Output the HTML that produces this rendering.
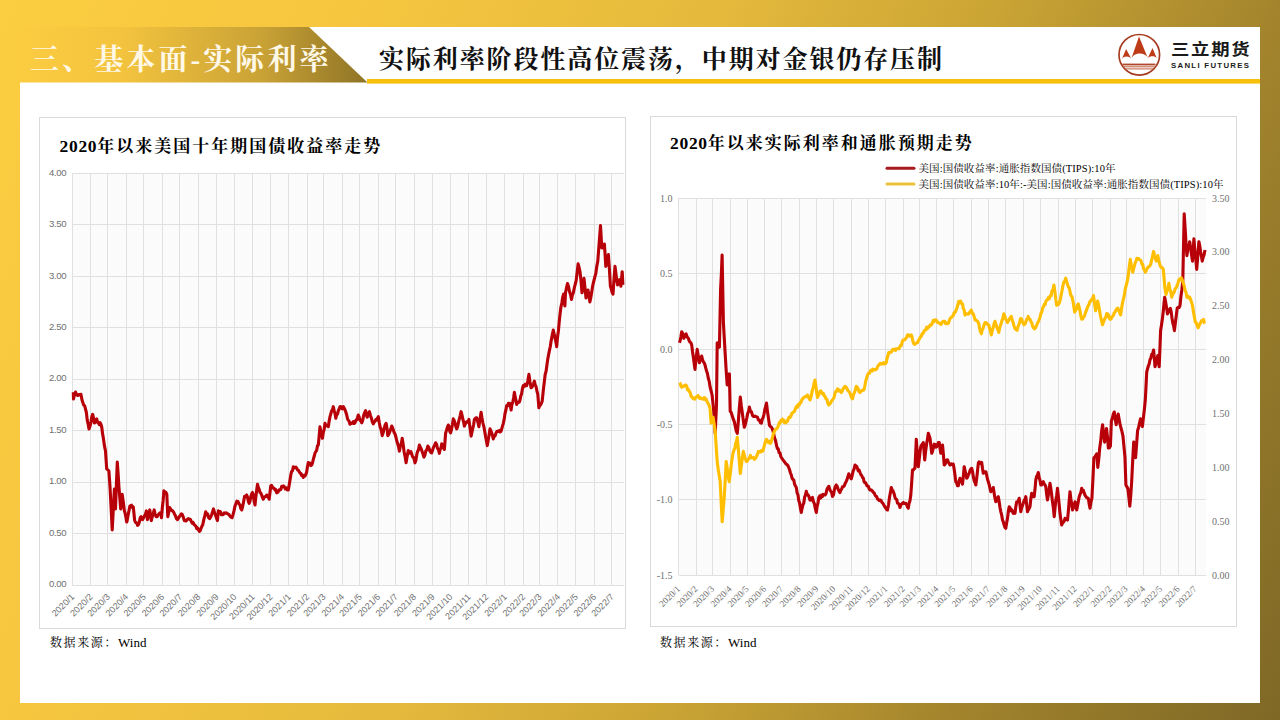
<!DOCTYPE html>
<html lang="zh-CN">
<head>
<meta charset="utf-8">
<title>三、基本面-实际利率</title>
<style>
html,body{margin:0;padding:0;}
body{width:1280px;height:720px;overflow:hidden;position:relative;
  background:linear-gradient(115deg,#fbcd40 0%,#f6c63f 22%,#e4b93c 45%,#caa434 62%,#a4852d 79%,#7e6826 100%);
  font-family:"Liberation Serif","Noto Serif CJK SC",serif;}
.panel{position:absolute;left:20px;top:27px;width:1240px;height:676px;background:#fff;}
.sec{position:absolute;left:30px;top:37.5px;font-family:"Liberation Serif","Noto Serif CJK SC",serif;font-weight:bold;
  font-size:29px;line-height:44px;color:#fff8e6;letter-spacing:3.1px;white-space:nowrap;}
.ttl{position:absolute;left:379px;top:41px;font-family:"Liberation Serif","Noto Serif CJK SC",serif;font-weight:bold;
  font-size:25px;line-height:38px;color:#111;letter-spacing:1.9px;white-space:nowrap;}
.box{position:absolute;border:1px solid #d9d9d9;background:#fff;}
.ctitle{position:absolute;font-family:"Liberation Serif","Noto Serif CJK SC",serif;font-weight:bold;font-size:17px;
  line-height:24px;color:#000;white-space:nowrap;letter-spacing:2.0px;}
.ctitle .n{letter-spacing:0.7px;font-size:17.5px;}
.src{position:absolute;font-family:"Liberation Serif","Noto Serif CJK SC",serif;font-size:12px;line-height:16px;color:#000;white-space:nowrap;}
.src .c{letter-spacing:1.6px;}
.src .w{font-size:13px;}
.leg{position:absolute;font-family:"Liberation Serif","Noto Serif CJK SC",serif;font-size:10.5px;line-height:14px;color:#000;white-space:nowrap;letter-spacing:0.09px;}
.brand{position:absolute;left:1171px;top:37px;font-family:"Liberation Sans","Noto Sans CJK SC",sans-serif;font-weight:bold;
  font-size:16.3px;line-height:24px;color:#1a1a1a;letter-spacing:1.5px;white-space:nowrap;transform:scaleX(1.13);transform-origin:0 0;}
.brand2{position:absolute;left:1171px;top:61px;font-family:"Liberation Sans",sans-serif;font-weight:bold;
  font-size:7.8px;line-height:10px;color:#1a1a1a;letter-spacing:1.3px;white-space:nowrap;}
svg{position:absolute;left:0;top:0;}
</style>
</head>
<body>
<div class="panel"></div>
<svg width="1280" height="720" viewBox="0 0 1280 720">
  <defs>
    <linearGradient id="hg" x1="20" y1="0" x2="367" y2="0" gradientUnits="userSpaceOnUse">
      <stop offset="0" stop-color="#fbcc40"/>
      <stop offset="0.3" stop-color="#f3c33e"/>
      <stop offset="0.7" stop-color="#c9a236"/>
      <stop offset="1" stop-color="#8f7426"/>
    </linearGradient>
  </defs>
  <polygon points="20,27 309,27 367.5,82.5 20,82.5" fill="url(#hg)"/>
  <rect x="367" y="79" width="893" height="4.6" fill="#f6c00c"/>
  <!-- logo -->
  <g>
    <circle cx="1139.3" cy="54.8" r="20.3" fill="none" stroke="#a63d22" stroke-width="1.7"/>
    <path d="M1139,36.6 L1147.8,58 C1145.5,51.8 1133.8,51.8 1131.3,58.8 Z" fill="#bd3b17"/>
    <path d="M1126.1,49.1 L1131.3,58.8 C1129.5,56 1124,55.5 1122,58.8 Z" fill="#bd3b17"/>
    <path d="M1152.5,48.1 L1156.7,58 C1155,55.5 1150,55.5 1147.8,58 Z" fill="#bd3b17"/>
    <rect x="1122.5" y="63.6" width="33" height="1.8" fill="#b0462a"/>
    <rect x="1123.5" y="66.3" width="31" height="1.0" fill="#c0603f"/>
    <rect x="1124.5" y="68.4" width="29" height="1.0" fill="#c0603f"/>
  </g>
</svg>
<div class="sec">三、基本面-实际利率</div>
<div class="ttl">实际利率阶段性高位震荡，中期对金银仍存压制</div>
<div class="brand">三立期货</div>
<div class="brand2">SANLI FUTURES</div>

<div class="box" style="left:39px;top:117px;width:585px;height:510px;"></div>
<div class="box" style="left:650px;top:116px;width:585px;height:509px;"></div>
<div class="ctitle" style="left:59.5px;top:134px;"><span class="n">2020</span>年以来美国十年期国债收益率走势</div>
<div class="ctitle" style="left:670px;top:130.5px;"><span class="n">2020</span>年以来实际利率和通胀预期走势</div>
<div class="leg" style="left:918.5px;top:162px;">美国:国债收益率:通胀指数国债(TIPS):10年</div>
<div class="leg" style="left:918.5px;top:178px;">美国:国债收益率:10年:-美国:国债收益率:通胀指数国债(TIPS):10年</div>
<div class="src" style="left:50px;top:635px;"><span class="c">数据来源：</span><span class="w">Wind</span></div>
<div class="src" style="left:660px;top:635px;"><span class="c">数据来源：</span><span class="w">Wind</span></div>
<svg width="1280" height="720" viewBox="0 0 1280 720">
<g stroke="#e0e0e0" stroke-width="1" shape-rendering="crispEdges">
<rect x="72.2" y="173.4" width="551.6" height="411.6" fill="#fbfbfb" stroke="none"/>
<line x1="72.2" y1="173.4" x2="72.2" y2="585.0"/>
<line x1="90.5" y1="173.4" x2="90.5" y2="585.0"/>
<line x1="107.7" y1="173.4" x2="107.7" y2="585.0"/>
<line x1="126.0" y1="173.4" x2="126.0" y2="585.0"/>
<line x1="143.8" y1="173.4" x2="143.8" y2="585.0"/>
<line x1="162.1" y1="173.4" x2="162.1" y2="585.0"/>
<line x1="179.9" y1="173.4" x2="179.9" y2="585.0"/>
<line x1="198.2" y1="173.4" x2="198.2" y2="585.0"/>
<line x1="216.6" y1="173.4" x2="216.6" y2="585.0"/>
<line x1="234.3" y1="173.4" x2="234.3" y2="585.0"/>
<line x1="252.6" y1="173.4" x2="252.6" y2="585.0"/>
<line x1="270.4" y1="173.4" x2="270.4" y2="585.0"/>
<line x1="288.7" y1="173.4" x2="288.7" y2="585.0"/>
<line x1="307.1" y1="173.4" x2="307.1" y2="585.0"/>
<line x1="323.6" y1="173.4" x2="323.6" y2="585.0"/>
<line x1="342.0" y1="173.4" x2="342.0" y2="585.0"/>
<line x1="359.7" y1="173.4" x2="359.7" y2="585.0"/>
<line x1="378.1" y1="173.4" x2="378.1" y2="585.0"/>
<line x1="395.8" y1="173.4" x2="395.8" y2="585.0"/>
<line x1="414.1" y1="173.4" x2="414.1" y2="585.0"/>
<line x1="432.5" y1="173.4" x2="432.5" y2="585.0"/>
<line x1="450.2" y1="173.4" x2="450.2" y2="585.0"/>
<line x1="468.6" y1="173.4" x2="468.6" y2="585.0"/>
<line x1="486.3" y1="173.4" x2="486.3" y2="585.0"/>
<line x1="504.7" y1="173.4" x2="504.7" y2="585.0"/>
<line x1="523.0" y1="173.4" x2="523.0" y2="585.0"/>
<line x1="539.6" y1="173.4" x2="539.6" y2="585.0"/>
<line x1="557.9" y1="173.4" x2="557.9" y2="585.0"/>
<line x1="575.7" y1="173.4" x2="575.7" y2="585.0"/>
<line x1="594.0" y1="173.4" x2="594.0" y2="585.0"/>
<line x1="611.7" y1="173.4" x2="611.7" y2="585.0"/>
<line x1="72.2" y1="585.0" x2="623.8" y2="585.0"/>
<line x1="72.2" y1="533.5" x2="623.8" y2="533.5"/>
<line x1="72.2" y1="482.1" x2="623.8" y2="482.1"/>
<line x1="72.2" y1="430.6" x2="623.8" y2="430.6"/>
<line x1="72.2" y1="379.2" x2="623.8" y2="379.2"/>
<line x1="72.2" y1="327.8" x2="623.8" y2="327.8"/>
<line x1="72.2" y1="276.3" x2="623.8" y2="276.3"/>
<line x1="72.2" y1="224.8" x2="623.8" y2="224.8"/>
<line x1="72.2" y1="173.4" x2="623.8" y2="173.4"/>
<rect x="678.5" y="198.0" width="527.3" height="377.4" fill="#fbfbfb" stroke="none"/>
<line x1="678.5" y1="198.0" x2="678.5" y2="575.4"/>
<line x1="696.1" y1="198.0" x2="696.1" y2="575.4"/>
<line x1="712.5" y1="198.0" x2="712.5" y2="575.4"/>
<line x1="730.0" y1="198.0" x2="730.0" y2="575.4"/>
<line x1="747.0" y1="198.0" x2="747.0" y2="575.4"/>
<line x1="764.6" y1="198.0" x2="764.6" y2="575.4"/>
<line x1="781.6" y1="198.0" x2="781.6" y2="575.4"/>
<line x1="799.1" y1="198.0" x2="799.1" y2="575.4"/>
<line x1="816.7" y1="198.0" x2="816.7" y2="575.4"/>
<line x1="833.7" y1="198.0" x2="833.7" y2="575.4"/>
<line x1="851.3" y1="198.0" x2="851.3" y2="575.4"/>
<line x1="868.2" y1="198.0" x2="868.2" y2="575.4"/>
<line x1="885.8" y1="198.0" x2="885.8" y2="575.4"/>
<line x1="903.4" y1="198.0" x2="903.4" y2="575.4"/>
<line x1="919.2" y1="198.0" x2="919.2" y2="575.4"/>
<line x1="936.8" y1="198.0" x2="936.8" y2="575.4"/>
<line x1="953.8" y1="198.0" x2="953.8" y2="575.4"/>
<line x1="971.3" y1="198.0" x2="971.3" y2="575.4"/>
<line x1="988.3" y1="198.0" x2="988.3" y2="575.4"/>
<line x1="1005.9" y1="198.0" x2="1005.9" y2="575.4"/>
<line x1="1023.4" y1="198.0" x2="1023.4" y2="575.4"/>
<line x1="1040.4" y1="198.0" x2="1040.4" y2="575.4"/>
<line x1="1058.0" y1="198.0" x2="1058.0" y2="575.4"/>
<line x1="1075.0" y1="198.0" x2="1075.0" y2="575.4"/>
<line x1="1092.5" y1="198.0" x2="1092.5" y2="575.4"/>
<line x1="1110.1" y1="198.0" x2="1110.1" y2="575.4"/>
<line x1="1126.0" y1="198.0" x2="1126.0" y2="575.4"/>
<line x1="1143.5" y1="198.0" x2="1143.5" y2="575.4"/>
<line x1="1160.5" y1="198.0" x2="1160.5" y2="575.4"/>
<line x1="1178.1" y1="198.0" x2="1178.1" y2="575.4"/>
<line x1="1195.1" y1="198.0" x2="1195.1" y2="575.4"/>
<line x1="678.5" y1="198.0" x2="1205.8" y2="198.0"/>
<line x1="678.5" y1="273.5" x2="1205.8" y2="273.5"/>
<line x1="678.5" y1="349.0" x2="1205.8" y2="349.0"/>
<line x1="678.5" y1="424.4" x2="1205.8" y2="424.4"/>
<line x1="678.5" y1="499.9" x2="1205.8" y2="499.9"/>
<line x1="678.5" y1="575.4" x2="1205.8" y2="575.4"/>
</g>
<g font-family="Liberation Sans, Arial, sans-serif" font-size="9" fill="#707070"><text x="66.3" y="587.2" text-anchor="end" font-size="9.6" letter-spacing="-0.35">0.00</text>
<text x="66.3" y="535.8" text-anchor="end" font-size="9.6" letter-spacing="-0.35">0.50</text>
<text x="66.3" y="484.3" text-anchor="end" font-size="9.6" letter-spacing="-0.35">1.00</text>
<text x="66.3" y="432.8" text-anchor="end" font-size="9.6" letter-spacing="-0.35">1.50</text>
<text x="66.3" y="381.4" text-anchor="end" font-size="9.6" letter-spacing="-0.35">2.00</text>
<text x="66.3" y="329.9" text-anchor="end" font-size="9.6" letter-spacing="-0.35">2.50</text>
<text x="66.3" y="278.5" text-anchor="end" font-size="9.6" letter-spacing="-0.35">3.00</text>
<text x="66.3" y="227.0" text-anchor="end" font-size="9.6" letter-spacing="-0.35">3.50</text>
<text x="66.3" y="175.6" text-anchor="end" font-size="9.6" letter-spacing="-0.35">4.00</text>
<text transform="translate(75.0,597.5) rotate(-45)" text-anchor="end">2020/1</text>
<text transform="translate(93.3,597.5) rotate(-45)" text-anchor="end">2020/2</text>
<text transform="translate(110.5,597.5) rotate(-45)" text-anchor="end">2020/3</text>
<text transform="translate(128.8,597.5) rotate(-45)" text-anchor="end">2020/4</text>
<text transform="translate(146.6,597.5) rotate(-45)" text-anchor="end">2020/5</text>
<text transform="translate(164.9,597.5) rotate(-45)" text-anchor="end">2020/6</text>
<text transform="translate(182.7,597.5) rotate(-45)" text-anchor="end">2020/7</text>
<text transform="translate(201.0,597.5) rotate(-45)" text-anchor="end">2020/8</text>
<text transform="translate(219.4,597.5) rotate(-45)" text-anchor="end">2020/9</text>
<text transform="translate(237.1,597.5) rotate(-45)" text-anchor="end">2020/10</text>
<text transform="translate(255.4,597.5) rotate(-45)" text-anchor="end">2020/11</text>
<text transform="translate(273.2,597.5) rotate(-45)" text-anchor="end">2020/12</text>
<text transform="translate(291.5,597.5) rotate(-45)" text-anchor="end">2021/1</text>
<text transform="translate(309.9,597.5) rotate(-45)" text-anchor="end">2021/2</text>
<text transform="translate(326.4,597.5) rotate(-45)" text-anchor="end">2021/3</text>
<text transform="translate(344.8,597.5) rotate(-45)" text-anchor="end">2021/4</text>
<text transform="translate(362.5,597.5) rotate(-45)" text-anchor="end">2021/5</text>
<text transform="translate(380.9,597.5) rotate(-45)" text-anchor="end">2021/6</text>
<text transform="translate(398.6,597.5) rotate(-45)" text-anchor="end">2021/7</text>
<text transform="translate(416.9,597.5) rotate(-45)" text-anchor="end">2021/8</text>
<text transform="translate(435.3,597.5) rotate(-45)" text-anchor="end">2021/9</text>
<text transform="translate(453.0,597.5) rotate(-45)" text-anchor="end">2021/10</text>
<text transform="translate(471.4,597.5) rotate(-45)" text-anchor="end">2021/11</text>
<text transform="translate(489.1,597.5) rotate(-45)" text-anchor="end">2021/12</text>
<text transform="translate(507.5,597.5) rotate(-45)" text-anchor="end">2022/1</text>
<text transform="translate(525.8,597.5) rotate(-45)" text-anchor="end">2022/2</text>
<text transform="translate(542.4,597.5) rotate(-45)" text-anchor="end">2022/3</text>
<text transform="translate(560.7,597.5) rotate(-45)" text-anchor="end">2022/4</text>
<text transform="translate(578.5,597.5) rotate(-45)" text-anchor="end">2022/5</text>
<text transform="translate(596.8,597.5) rotate(-45)" text-anchor="end">2022/6</text>
<text transform="translate(614.5,597.5) rotate(-45)" text-anchor="end">2022/7</text></g>
<g font-family="Liberation Serif, serif" font-size="10" fill="#707070"><text x="672.5" y="201.5" text-anchor="end">1.0</text>
<text x="672.5" y="277.0" text-anchor="end">0.5</text>
<text x="672.5" y="352.5" text-anchor="end">0.0</text>
<text x="672.5" y="427.9" text-anchor="end">-0.5</text>
<text x="672.5" y="503.4" text-anchor="end">-1.0</text>
<text x="672.5" y="578.9" text-anchor="end">-1.5</text>
<text x="1212" y="201.5">3.50</text>
<text x="1212" y="255.4">3.00</text>
<text x="1212" y="309.3">2.50</text>
<text x="1212" y="363.2">2.00</text>
<text x="1212" y="417.2">1.50</text>
<text x="1212" y="471.1">1.00</text>
<text x="1212" y="525.0">0.50</text>
<text x="1212" y="578.9">0.00</text>
<text transform="translate(680.7,589.5) rotate(-45)" text-anchor="end" font-size="9.2">2020/1</text>
<text transform="translate(698.3,589.5) rotate(-45)" text-anchor="end" font-size="9.2">2020/2</text>
<text transform="translate(714.7,589.5) rotate(-45)" text-anchor="end" font-size="9.2">2020/3</text>
<text transform="translate(732.2,589.5) rotate(-45)" text-anchor="end" font-size="9.2">2020/4</text>
<text transform="translate(749.2,589.5) rotate(-45)" text-anchor="end" font-size="9.2">2020/5</text>
<text transform="translate(766.8,589.5) rotate(-45)" text-anchor="end" font-size="9.2">2020/6</text>
<text transform="translate(783.8,589.5) rotate(-45)" text-anchor="end" font-size="9.2">2020/7</text>
<text transform="translate(801.3,589.5) rotate(-45)" text-anchor="end" font-size="9.2">2020/8</text>
<text transform="translate(818.9,589.5) rotate(-45)" text-anchor="end" font-size="9.2">2020/9</text>
<text transform="translate(835.9,589.5) rotate(-45)" text-anchor="end" font-size="9.2">2020/10</text>
<text transform="translate(853.5,589.5) rotate(-45)" text-anchor="end" font-size="9.2">2020/11</text>
<text transform="translate(870.4,589.5) rotate(-45)" text-anchor="end" font-size="9.2">2020/12</text>
<text transform="translate(888.0,589.5) rotate(-45)" text-anchor="end" font-size="9.2">2021/1</text>
<text transform="translate(905.6,589.5) rotate(-45)" text-anchor="end" font-size="9.2">2021/2</text>
<text transform="translate(921.4,589.5) rotate(-45)" text-anchor="end" font-size="9.2">2021/3</text>
<text transform="translate(939.0,589.5) rotate(-45)" text-anchor="end" font-size="9.2">2021/4</text>
<text transform="translate(956.0,589.5) rotate(-45)" text-anchor="end" font-size="9.2">2021/5</text>
<text transform="translate(973.5,589.5) rotate(-45)" text-anchor="end" font-size="9.2">2021/6</text>
<text transform="translate(990.5,589.5) rotate(-45)" text-anchor="end" font-size="9.2">2021/7</text>
<text transform="translate(1008.1,589.5) rotate(-45)" text-anchor="end" font-size="9.2">2021/8</text>
<text transform="translate(1025.6,589.5) rotate(-45)" text-anchor="end" font-size="9.2">2021/9</text>
<text transform="translate(1042.6,589.5) rotate(-45)" text-anchor="end" font-size="9.2">2021/10</text>
<text transform="translate(1060.2,589.5) rotate(-45)" text-anchor="end" font-size="9.2">2021/11</text>
<text transform="translate(1077.2,589.5) rotate(-45)" text-anchor="end" font-size="9.2">2021/12</text>
<text transform="translate(1094.7,589.5) rotate(-45)" text-anchor="end" font-size="9.2">2022/1</text>
<text transform="translate(1112.3,589.5) rotate(-45)" text-anchor="end" font-size="9.2">2022/2</text>
<text transform="translate(1128.2,589.5) rotate(-45)" text-anchor="end" font-size="9.2">2022/3</text>
<text transform="translate(1145.7,589.5) rotate(-45)" text-anchor="end" font-size="9.2">2022/4</text>
<text transform="translate(1162.7,589.5) rotate(-45)" text-anchor="end" font-size="9.2">2022/5</text>
<text transform="translate(1180.3,589.5) rotate(-45)" text-anchor="end" font-size="9.2">2022/6</text>
<text transform="translate(1197.3,589.5) rotate(-45)" text-anchor="end" font-size="9.2">2022/7</text></g>
<path d="M679.4,342.8 680.2,340.4 680.9,336.7 681.7,331.7 682.8,333.8 683.9,338.3 685.0,334.9 686.1,333.9 687.2,337.0 688.3,338.3 689.1,340.6 690.0,342.1 690.9,342.8 691.7,345.0 692.5,351.4 693.4,357.5 694.2,363.5 695.0,369.4 696.1,358.4 697.2,349.4 698.3,355.9 699.4,362.8 700.2,360.3 700.9,359.0 701.7,356.1 702.5,359.7 703.4,361.8 704.2,362.9 705.0,365.0 705.8,368.2 706.6,371.0 707.5,373.7 708.3,378.3 709.2,381.3 710.1,387.0 711.1,390.9 712.1,395.0 713.1,404.6 714.1,415.2 715.2,433.3 716.5,405.0 717.2,342.8 718.3,344.7 719.4,347.2 720.6,289.4 721.4,273.3 722.1,255.0 723.4,322.8 724.3,338.4 725.2,354.0 726.1,369.4 727.2,385.0 728.3,378.7 729.4,373.9 730.2,411.2 731.2,412.5 732.3,416.0 733.3,419.2 734.3,421.7 735.3,426.3 736.3,431.2 737.3,433.3 738.3,421.7 739.3,408.3 740.3,397.1 741.3,405.8 742.3,413.0 743.3,420.4 744.3,427.3 745.1,425.1 746.0,421.3 746.8,418.0 747.7,413.4 748.5,411.8 749.4,407.1 750.4,411.1 751.4,411.6 752.4,415.2 753.2,416.2 754.1,416.5 754.9,416.1 755.7,416.6 756.6,416.8 757.4,417.2 758.4,419.9 759.4,420.2 760.4,422.6 761.4,423.2 762.2,419.4 763.1,417.6 764.0,414.3 764.8,409.7 765.6,406.6 766.5,403.1 767.5,411.6 768.5,418.5 769.5,425.2 770.5,426.5 771.5,427.2 772.5,429.3 773.5,432.8 774.5,437.9 775.5,440.4 776.5,445.4 777.4,448.5 778.2,448.8 779.1,452.6 780.0,452.9 780.9,456.7 781.7,458.0 782.6,459.4 783.4,460.4 784.2,461.5 785.0,462.5 785.8,463.8 786.7,464.4 787.5,465.0 788.5,467.0 789.4,469.2 790.3,472.5 791.3,475.0 792.1,478.3 793.0,479.5 793.8,480.1 794.6,484.2 795.5,486.0 796.3,487.5 797.1,492.8 798.0,495.0 798.8,500.7 799.6,502.9 800.5,508.8 801.3,512.5 802.1,508.3 803.0,504.7 803.8,503.0 804.6,497.3 805.5,494.9 806.3,491.3 807.2,494.5 808.1,494.9 809.1,497.0 810.0,500.0 810.8,500.2 811.7,498.1 812.5,497.5 813.5,501.9 814.4,503.7 815.3,508.4 816.3,512.5 817.1,506.6 818.0,503.0 818.8,497.5 819.7,496.0 820.6,498.1 821.5,495.1 822.3,496.7 823.2,494.4 824.1,494.7 825.0,495.0 826.0,493.7 826.9,489.7 827.8,487.6 828.8,486.3 829.7,489.3 830.6,491.0 831.6,492.5 832.5,496.3 833.5,494.8 834.4,489.7 835.3,486.5 836.3,485.0 837.2,486.4 838.1,489.1 839.1,491.3 840.0,492.5 840.8,490.0 841.7,489.1 842.5,486.8 843.3,486.6 844.2,486.0 845.0,483.8 846.0,482.0 846.9,479.9 847.8,477.0 848.8,473.8 849.6,476.5 850.5,477.7 851.3,478.8 852.2,475.3 853.1,471.1 854.1,468.9 855.0,465.0 855.8,465.7 856.7,466.4 857.5,468.6 858.3,471.0 859.2,470.2 860.0,472.5 860.8,474.4 861.7,475.5 862.5,477.5 863.3,478.2 864.2,482.1 865.0,482.5 865.8,483.1 866.7,485.3 867.5,486.0 868.3,486.2 869.2,488.9 870.0,490.0 870.8,489.8 871.7,490.4 872.5,491.2 873.3,492.4 874.2,493.0 875.0,495.0 875.8,496.2 876.7,496.7 877.5,498.9 878.3,499.5 879.2,500.6 880.0,500.0 881.0,500.5 881.9,502.3 882.8,503.1 883.8,505.0 884.7,506.5 885.6,507.8 886.6,509.6 887.5,510.0 888.5,505.0 889.4,498.1 890.3,492.9 891.3,487.5 892.2,490.1 893.1,491.1 894.1,493.7 895.0,497.5 895.8,498.9 896.7,499.7 897.5,503.1 898.3,503.4 899.2,504.7 900.0,507.5 900.8,505.2 901.7,503.9 902.5,503.3 903.3,502.5 904.1,503.4 905.0,503.2 905.8,503.3 906.6,504.4 907.5,507.0 908.3,508.3 909.1,503.1 910.0,500.6 910.8,495.0 911.6,483.8 912.5,470.0 913.3,470.1 914.2,468.7 915.0,468.3 916.3,439.2 917.3,453.0 918.3,466.7 919.1,460.3 920.0,452.1 920.8,446.7 921.6,445.1 922.5,444.0 923.3,442.5 924.0,450.4 924.7,460.0 925.7,450.5 926.7,443.3 927.5,439.1 928.3,433.3 929.1,435.4 930.0,438.3 930.9,445.9 931.7,453.3 932.5,451.4 933.4,447.5 934.2,444.2 935.0,444.4 935.9,447.2 936.7,446.7 937.5,444.9 938.4,442.6 939.2,442.5 940.0,448.4 940.8,453.3 941.6,448.0 942.5,445.0 943.4,454.5 944.2,465.0 945.0,464.3 945.9,462.1 946.7,460.0 947.5,459.9 948.4,462.4 949.2,463.5 950.0,465.0 950.8,464.8 951.6,463.8 952.5,464.6 953.3,464.2 954.1,468.8 955.0,475.3 955.8,481.7 956.6,482.7 957.5,485.7 958.3,485.8 959.1,480.9 960.0,478.3 960.8,481.0 961.7,481.4 962.5,484.2 963.4,475.7 964.2,466.7 965.0,470.3 965.9,474.3 966.7,478.3 967.5,477.3 968.4,474.7 969.2,473.3 970.0,470.6 970.9,468.9 971.7,468.3 972.5,471.3 973.3,476.7 974.1,480.4 975.0,482.6 975.8,485.0 976.6,479.1 977.5,471.1 978.3,463.3 979.1,461.8 980.0,463.3 980.9,463.5 981.7,462.5 982.5,468.5 983.3,473.3 984.1,472.8 985.0,471.8 985.8,471.7 986.6,474.9 987.5,479.2 988.3,481.7 989.1,484.4 990.0,488.4 990.8,491.7 991.6,490.2 992.5,490.2 993.3,487.5 994.1,493.1 995.0,498.2 995.8,501.7 996.6,501.0 997.5,497.8 998.3,496.7 999.1,501.3 1000.0,507.5 1000.8,511.6 1001.7,515.2 1002.5,520.0 1003.3,521.9 1004.1,524.7 1005.0,527.4 1005.8,528.3 1006.6,523.1 1007.5,518.4 1008.4,511.0 1009.2,506.7 1010.0,507.6 1010.8,510.7 1011.7,509.7 1012.5,511.7 1013.3,513.3 1014.1,512.1 1015.0,513.3 1015.9,506.3 1016.7,501.7 1017.5,501.7 1018.4,500.8 1019.2,498.3 1020.0,505.4 1020.8,511.7 1021.6,507.9 1022.5,505.5 1023.3,503.3 1024.1,500.3 1025.0,499.4 1025.8,496.7 1026.7,504.7 1027.5,511.7 1028.3,509.9 1029.2,508.4 1030.0,506.7 1030.8,498.9 1031.7,493.3 1032.5,494.5 1033.4,496.8 1034.2,496.7 1035.0,489.1 1035.8,480.0 1036.6,476.4 1037.5,475.0 1038.3,472.5 1039.1,477.3 1040.0,480.2 1040.8,485.0 1041.6,485.0 1042.5,482.7 1043.3,481.7 1044.1,483.9 1045.0,484.8 1045.8,486.7 1046.7,494.7 1047.5,500.0 1048.3,495.2 1049.2,489.1 1050.0,483.3 1050.8,488.2 1051.7,495.0 1052.5,502.1 1053.4,508.1 1054.2,516.7 1055.0,508.6 1055.8,500.0 1056.7,495.2 1057.5,488.3 1058.3,495.7 1059.2,505.0 1060.0,513.3 1060.8,519.1 1061.7,525.0 1062.5,523.1 1063.3,522.2 1064.2,521.2 1065.0,518.3 1065.8,519.4 1066.7,519.4 1067.5,520.0 1068.3,511.9 1069.2,500.7 1070.0,491.7 1070.8,498.5 1071.7,504.3 1072.5,510.0 1073.3,508.0 1074.2,505.5 1075.0,501.7 1075.8,505.1 1076.7,510.0 1077.5,505.9 1078.4,500.9 1079.2,496.7 1080.0,494.4 1080.9,492.4 1081.7,488.3 1082.5,490.4 1083.3,490.3 1084.2,493.2 1085.0,495.0 1085.8,496.4 1086.7,497.7 1087.5,497.9 1088.3,498.3 1089.2,504.1 1090.0,508.2 1091.0,501.9 1091.9,498.4 1092.9,479.3 1093.9,457.7 1094.9,457.0 1095.8,455.4 1096.8,453.8 1097.8,467.4 1098.8,458.8 1099.7,448.0 1100.7,441.3 1101.6,431.3 1102.6,424.7 1103.6,434.3 1104.6,442.1 1105.5,436.0 1106.5,428.5 1107.5,437.4 1108.4,448.0 1109.4,447.7 1110.4,446.0 1111.4,420.8 1112.4,418.1 1113.3,414.1 1114.3,412.0 1115.2,419.2 1116.2,424.7 1117.2,418.3 1118.2,414.0 1119.2,419.7 1120.1,424.7 1121.1,428.4 1122.0,431.7 1123.0,436.3 1124.0,447.2 1125.0,457.7 1125.9,484.9 1126.9,486.7 1127.9,488.7 1128.8,496.6 1129.8,506.2 1130.8,494.9 1131.7,481.0 1132.7,460.4 1133.7,442.1 1134.7,448.5 1135.6,457.7 1136.6,444.1 1137.6,430.5 1138.6,427.5 1139.5,423.1 1140.5,418.8 1141.5,423.4 1142.4,426.6 1143.4,417.8 1144.4,409.1 1145.3,400.0 1146.0,386.6 1146.7,372.2 1147.5,369.0 1148.3,366.0 1149.2,363.9 1150.0,359.8 1150.8,358.3 1151.7,354.4 1152.7,353.5 1153.6,350.0 1154.3,357.4 1155.0,366.7 1155.9,363.7 1156.9,360.1 1157.8,355.6 1158.5,360.9 1159.2,366.7 1159.9,349.1 1160.6,330.6 1161.5,324.9 1162.4,318.6 1163.3,311.1 1164.0,303.1 1164.7,297.2 1165.6,301.8 1166.6,308.0 1167.5,313.9 1168.4,311.9 1169.4,309.6 1170.3,308.3 1171.1,311.4 1171.9,317.4 1172.8,323.0 1173.6,325.8 1174.4,330.6 1175.3,323.3 1176.3,315.4 1177.2,308.3 1178.1,307.2 1179.1,307.5 1180.0,305.6 1180.9,296.7 1181.9,289.4 1182.8,280.6 1183.5,247.2 1184.2,213.9 1185.1,227.9 1186.0,242.9 1186.9,255.6 1187.8,249.8 1188.8,247.2 1189.7,241.7 1190.6,247.6 1191.6,255.0 1192.5,261.1 1193.2,250.8 1193.9,238.9 1194.8,249.5 1195.8,258.9 1196.7,269.4 1197.8,256.5 1198.9,241.7 1199.7,245.4 1200.6,251.8 1201.4,255.9 1202.2,261.1 1203.1,257.5 1204.1,254.7 1205.0,250.0" fill="none" stroke="#b80008" stroke-width="3.1" stroke-linejoin="round"/>
<path d="M679.4,382.8 680.2,383.5 680.9,385.9 681.7,387.2 682.5,386.3 683.4,386.4 684.2,385.9 685.0,385.0 685.9,385.1 686.8,386.3 687.6,390.0 688.5,389.7 689.4,391.7 690.2,392.6 691.1,396.4 691.9,396.6 692.8,398.3 694.0,399.0 694.8,399.2 695.6,397.5 696.4,397.2 697.2,396.1 698.1,395.6 699.0,397.4 699.9,398.5 700.8,397.9 701.7,398.3 702.6,399.1 703.5,399.1 704.3,397.5 705.2,399.6 706.1,399.0 707.1,401.8 708.1,403.5 709.1,405.3 710.1,409.1 711.1,423.2 712.1,421.2 713.1,417.2 714.2,424.2 715.2,431.3 716.2,447.0 717.2,461.5 718.2,469.3 719.2,475.5 720.2,481.6 721.2,502.9 722.2,521.8 723.2,509.5 724.2,497.7 725.2,480.4 726.2,461.5 727.2,468.0 728.2,476.1 729.2,481.6 730.2,474.6 731.3,464.3 732.3,457.4 733.1,453.0 734.0,449.9 734.8,448.7 735.6,443.8 736.5,441.0 737.3,437.3 738.3,448.8 739.3,461.5 740.3,473.5 741.3,465.8 742.3,458.3 743.3,451.4 744.3,455.0 745.3,458.4 746.3,461.5 747.1,461.4 747.9,459.6 748.8,459.0 749.6,457.6 750.4,455.4 751.4,457.8 752.4,457.9 753.4,457.5 754.4,459.4 755.4,458.4 756.4,456.7 757.4,454.5 758.4,451.4 759.4,451.6 760.4,452.0 761.4,450.6 762.4,451.4 763.2,449.9 764.0,446.8 764.9,443.5 765.7,440.5 766.5,439.3 767.5,441.3 768.5,442.7 769.5,441.2 770.5,443.4 771.5,441.2 772.5,437.1 773.5,433.3 774.5,431.3 775.5,429.2 776.5,429.0 777.5,427.8 778.5,425.2 779.3,422.7 780.1,423.1 781.0,420.3 781.8,421.0 782.6,419.2 783.4,419.8 784.2,422.5 785.0,422.5 785.8,423.0 786.7,420.8 787.5,421.4 788.3,418.6 789.2,417.1 790.0,417.5 790.8,416.5 791.7,413.7 792.5,412.9 793.3,412.2 794.2,411.6 795.0,410.0 795.8,407.8 796.7,406.2 797.5,407.3 798.3,404.5 799.2,405.0 800.0,402.5 801.0,402.4 801.9,399.7 802.8,398.6 803.8,397.5 804.7,396.9 805.6,396.7 806.6,395.9 807.5,395.0 808.3,396.8 809.2,398.7 810.0,400.0 810.8,397.9 811.7,393.4 812.5,389.8 813.3,387.3 814.2,382.6 815.0,380.0 815.8,385.3 816.7,393.0 817.5,397.5 818.3,395.5 819.2,393.5 820.0,391.3 820.8,390.8 821.7,392.7 822.5,394.0 823.3,393.3 824.2,395.8 825.0,396.3 826.0,398.8 826.9,399.4 827.8,403.2 828.8,405.0 829.7,403.7 830.6,403.0 831.6,400.8 832.5,400.0 833.3,398.7 834.2,396.9 835.0,393.1 835.8,391.3 836.7,391.2 837.5,388.8 838.5,391.0 839.4,390.0 840.3,391.5 841.3,392.5 842.2,391.2 843.1,388.9 844.1,387.5 845.0,386.3 846.0,387.0 846.9,388.4 847.8,390.3 848.8,391.3 849.7,392.6 850.6,394.7 851.6,397.7 852.5,398.8 853.5,394.4 854.4,392.7 855.3,390.1 856.3,386.3 857.2,387.3 858.1,388.6 859.1,391.8 860.0,392.5 861.0,391.1 861.9,390.4 862.8,390.4 863.8,390.0 864.7,386.8 865.6,381.4 866.6,378.3 867.5,375.0 868.5,373.3 869.4,373.4 870.3,371.1 871.3,370.0 872.2,371.0 873.1,369.1 874.1,369.5 875.0,370.0 876.0,369.2 876.9,368.6 877.8,366.1 878.8,365.0 879.7,363.9 880.6,363.3 881.6,364.2 882.5,363.8 883.5,362.6 884.4,364.0 885.3,363.8 886.3,362.5 887.1,358.3 888.0,355.2 888.8,352.5 889.6,352.9 890.5,352.1 891.3,352.1 892.1,350.4 893.0,349.4 893.8,350.0 894.6,349.2 895.5,350.4 896.3,348.8 897.1,348.8 898.0,348.8 898.8,348.8 899.6,347.1 900.5,345.6 901.3,345.6 902.1,342.0 903.0,340.1 903.8,340.0 904.7,340.0 905.6,338.6 906.6,337.6 907.5,335.0 908.5,334.8 909.4,336.3 910.3,336.2 911.3,335.0 912.1,337.2 913.0,341.6 913.8,343.8 914.7,344.4 915.6,343.6 916.6,342.9 917.5,342.5 918.5,340.4 919.4,339.0 920.3,337.1 921.3,336.3 922.2,333.5 923.1,333.4 924.1,331.0 925.0,330.0 925.8,330.0 926.7,327.1 927.5,328.6 928.3,327.2 929.2,327.0 930.0,325.0 930.8,325.3 931.7,324.5 932.5,322.7 933.3,320.3 934.2,321.5 935.0,320.0 935.8,319.7 936.7,320.7 937.5,322.4 938.3,322.6 939.2,322.9 940.0,323.8 941.0,324.4 941.9,322.9 942.8,321.5 943.8,321.3 944.7,321.2 945.6,323.6 946.6,323.1 947.5,323.8 948.5,323.0 949.4,320.2 950.3,318.2 951.3,317.5 952.2,316.3 953.1,315.9 954.1,312.8 955.0,312.5 956.0,310.5 956.9,308.1 957.8,305.0 958.8,301.3 959.7,302.8 960.6,301.2 961.6,303.5 962.5,303.8 963.3,308.5 964.2,310.0 965.0,315.0 966.0,314.1 966.9,313.8 967.8,314.2 968.8,313.8 969.6,312.3 970.5,311.2 971.3,310.0 972.2,313.3 973.1,313.6 974.1,316.3 975.0,320.0 976.0,319.9 976.9,320.8 977.8,321.6 978.8,323.8 979.6,328.5 980.5,331.5 981.3,333.8 982.2,329.8 983.1,328.2 984.1,324.8 985.0,322.5 986.0,322.6 986.9,323.3 987.8,324.8 988.8,325.0 989.6,328.6 990.5,331.3 991.3,335.0 992.2,330.7 993.1,327.7 994.1,323.7 995.0,321.3 996.0,324.3 996.9,327.5 997.8,329.4 998.8,332.5 999.6,328.2 1000.5,325.4 1001.3,322.8 1002.1,320.3 1003.0,317.7 1003.8,313.8 1004.7,315.6 1005.6,319.0 1006.6,320.7 1007.5,322.5 1008.5,320.8 1009.4,319.0 1010.3,317.8 1011.3,316.3 1012.2,320.0 1013.1,322.3 1014.1,326.2 1015.0,328.8 1016.0,329.4 1017.1,330.3 1018.0,326.6 1018.9,324.5 1019.7,322.0 1020.6,318.5 1021.5,318.9 1022.3,321.4 1023.1,322.9 1024.0,324.7 1024.8,324.1 1025.7,322.6 1026.5,319.4 1027.4,319.2 1028.2,316.4 1029.1,319.0 1030.0,319.3 1030.9,321.7 1031.7,322.5 1032.6,326.2 1033.5,327.6 1034.4,328.9 1035.4,328.0 1036.4,325.8 1037.3,323.5 1038.3,321.8 1039.3,319.2 1040.1,316.9 1041.0,313.1 1041.8,311.9 1042.7,307.8 1043.5,306.7 1044.3,304.3 1045.1,304.7 1046.0,301.2 1046.8,300.0 1047.6,299.7 1048.5,297.6 1049.3,298.7 1050.2,295.7 1051.1,295.6 1052.0,290.8 1053.0,289.6 1053.9,285.1 1054.8,290.8 1055.8,299.5 1056.7,305.3 1057.6,304.9 1058.5,304.4 1059.4,302.5 1060.3,299.6 1061.2,294.4 1062.0,290.8 1062.9,285.8 1063.8,282.0 1064.8,281.5 1065.7,278.2 1066.6,281.2 1067.6,284.8 1068.5,287.2 1069.4,288.5 1070.2,292.7 1071.1,295.7 1072.0,296.9 1072.9,300.8 1073.8,306.6 1074.7,312.2 1075.6,310.3 1076.5,309.0 1077.3,305.3 1078.2,303.9 1079.1,306.8 1080.0,310.8 1080.8,315.7 1081.7,319.2 1082.6,319.0 1083.5,317.0 1084.4,316.4 1085.3,313.3 1086.3,310.6 1087.2,308.1 1088.1,305.9 1089.0,304.4 1089.8,301.7 1090.7,301.1 1091.6,299.3 1092.6,298.8 1093.5,295.6 1094.5,303.0 1095.6,310.8 1096.6,306.6 1097.6,301.1 1098.6,304.9 1099.6,311.1 1100.5,316.0 1101.5,320.5 1102.5,324.7 1103.3,322.5 1104.2,320.2 1105.0,318.4 1105.9,316.9 1106.7,313.6 1107.5,313.7 1108.3,314.7 1109.2,317.7 1110.0,319.2 1110.8,319.2 1111.6,317.8 1112.5,316.2 1113.3,315.6 1114.2,312.7 1115.0,312.2 1115.9,310.2 1116.9,308.6 1117.8,308.1 1118.7,310.6 1119.7,312.2 1120.6,315.0 1121.6,308.0 1122.6,302.5 1123.5,298.9 1124.3,295.4 1125.2,289.4 1126.1,285.8 1127.2,281.5 1128.2,276.1 1129.2,267.5 1130.3,259.4 1131.1,264.7 1132.0,268.2 1132.8,272.2 1133.6,268.8 1134.4,265.8 1135.3,262.5 1136.1,261.0 1136.9,258.3 1137.7,258.5 1138.6,258.5 1139.4,259.6 1140.3,260.0 1141.1,261.1 1141.9,264.1 1142.8,264.5 1143.6,269.1 1144.5,269.9 1145.3,272.2 1146.2,270.6 1147.2,268.4 1148.1,266.7 1149.0,266.7 1149.9,265.7 1150.8,263.9 1151.7,259.9 1152.7,255.5 1153.6,251.4 1154.5,255.3 1155.5,258.9 1156.4,261.1 1157.1,258.1 1157.8,255.6 1158.7,260.0 1159.7,264.3 1160.6,266.7 1161.5,267.5 1162.4,267.7 1163.3,269.4 1164.0,277.0 1164.7,286.1 1165.4,290.9 1166.1,294.4 1167.0,291.2 1168.0,288.3 1168.9,283.3 1169.8,288.9 1170.8,291.8 1171.7,297.2 1172.6,294.5 1173.5,292.9 1174.4,291.7 1175.2,288.6 1176.1,287.8 1176.9,286.0 1177.8,283.9 1178.6,280.6 1179.5,279.0 1180.5,279.8 1181.4,277.8 1182.3,280.0 1183.3,283.1 1184.2,286.1 1185.1,290.4 1186.0,292.3 1186.9,297.2 1187.8,296.1 1188.8,298.1 1189.7,297.2 1190.6,299.4 1191.6,302.4 1192.5,305.6 1193.4,311.4 1194.4,317.2 1195.3,322.2 1196.2,322.7 1197.2,325.5 1198.1,327.8 1199.0,325.8 1199.9,324.0 1200.8,322.2 1201.7,320.5 1202.7,320.6 1203.6,319.4 1204.3,322.8 1205.0,323.6" fill="none" stroke="#ffbf00" stroke-width="3.1" stroke-linejoin="round"/>
<path d="M73.3,392.2 73.5,399.0 74.5,394.5 75.5,392.0 76.3,394.1 77.0,395.1 77.8,395.5 78.6,394.5 79.4,394.9 80.2,394.5 81.0,394.4 82.0,400.0 82.9,402.7 83.8,405.3 84.6,405.6 85.5,409.0 86.4,412.7 87.2,419.9 88.1,423.8 89.0,429.0 90.0,426.2 91.0,422.0 91.8,416.8 92.7,414.4 93.6,418.5 94.4,423.0 95.2,422.3 95.9,419.6 96.7,419.0 97.6,422.2 98.4,423.0 99.3,424.6 100.1,422.6 101.0,424.4 101.8,427.5 102.5,433.4 103.3,437.8 104.4,445.6 105.5,451.0 106.7,469.0 107.8,469.7 108.9,471.0 110.0,486.7 111.1,507.6 112.2,530.0 113.3,509.3 114.4,489.0 115.5,509.0 116.4,484.2 117.3,462.0 118.1,473.6 118.9,486.7 119.8,497.7 120.7,509.0 121.5,501.7 122.2,494.4 123.3,502.0 124.4,511.0 125.0,512.8 125.8,516.6 126.7,522.0 127.0,521.6 128.0,515.6 128.9,511.1 129.9,506.0 130.8,505.7 131.6,505.2 132.5,507.7 133.3,507.0 134.0,514.0 134.7,520.6 135.7,522.6 136.6,522.9 137.6,525.4 138.4,524.6 139.3,522.1 140.2,517.8 141.0,516.7 141.8,517.7 142.5,519.6 143.5,518.0 144.4,515.8 145.4,514.3 146.4,510.9 147.4,519.6 148.2,516.1 149.0,514.1 149.8,509.9 150.6,515.7 151.3,520.6 152.3,516.5 153.2,513.7 154.2,509.9 155.1,514.4 156.1,516.7 157.1,516.7 158.1,514.8 159.0,514.0 160.0,512.8 160.8,513.9 161.5,517.7 162.3,508.0 163.1,500.7 163.9,490.9 164.9,491.8 165.8,492.3 166.8,494.3 167.8,516.7 168.8,512.2 169.7,507.5 170.7,509.2 171.7,510.3 172.7,510.9 173.7,512.3 174.6,514.2 175.6,516.1 176.5,518.6 177.5,519.6 178.5,518.2 179.4,516.4 180.4,515.2 181.4,513.8 182.4,514.7 183.3,517.1 184.3,520.6 185.3,520.7 186.2,521.0 187.2,519.4 188.2,518.6 189.2,519.1 190.2,519.2 191.1,520.9 192.1,523.1 193.1,522.5 194.1,524.6 195.0,525.2 196.0,526.4 196.8,528.6 197.7,528.1 198.6,530.1 199.4,531.3 200.2,530.9 201.1,528.1 202.0,526.1 202.8,524.5 203.8,519.6 204.7,516.2 205.7,511.8 206.7,514.8 207.6,513.8 208.6,517.7 209.6,518.6 210.6,517.1 211.6,514.8 212.5,512.0 213.5,508.9 214.5,512.7 215.4,514.8 216.4,517.8 217.4,520.6 218.4,510.9 219.4,511.6 220.4,511.6 221.3,514.8 222.3,514.7 223.3,514.4 224.2,512.9 225.2,513.3 226.2,512.8 227.2,513.6 228.1,514.0 229.1,514.8 230.1,516.2 231.0,517.2 232.0,517.7 233.0,514.7 234.0,510.9 234.9,506.4 235.9,503.7 236.9,501.1 237.9,501.5 239.0,503.9 240.0,505.0 240.8,508.5 241.7,510.0 242.7,506.3 243.6,501.7 244.6,496.3 245.6,496.5 246.7,495.0 247.5,497.1 248.4,501.5 249.2,503.3 250.0,501.1 250.8,496.7 251.7,493.8 252.5,492.5 253.3,495.3 254.2,501.5 255.0,505.0 255.8,497.4 256.7,490.0 257.5,484.2 258.3,487.3 259.2,489.3 260.0,492.5 260.8,493.0 261.6,494.9 262.5,497.6 263.3,499.2 264.1,497.2 265.0,496.5 265.9,496.6 266.7,495.0 267.5,496.3 268.4,497.3 269.2,499.2 270.0,492.4 270.8,485.8 271.6,485.3 272.5,487.2 273.3,488.1 274.2,488.3 275.0,490.0 275.8,489.7 276.7,492.8 277.5,492.5 278.3,491.6 279.2,489.8 280.0,489.9 280.8,489.5 281.7,486.3 282.5,486.7 283.5,485.9 284.4,486.8 285.4,489.0 286.4,487.9 287.3,490.0 288.3,490.0 289.1,485.5 290.0,480.1 290.8,475.0 291.6,471.5 292.5,470.8 293.3,466.7 294.1,467.9 295.0,467.5 295.9,467.1 296.7,468.3 297.5,469.8 298.4,470.3 299.2,471.7 300.0,473.1 300.8,473.5 301.7,475.5 302.5,475.1 303.3,477.5 304.1,475.5 305.0,475.9 305.9,474.2 306.7,471.7 307.5,466.6 308.3,462.5 309.1,464.1 310.0,463.2 310.9,465.6 311.7,465.0 312.5,463.0 313.3,459.4 314.2,456.3 315.0,453.0 315.8,451.7 316.6,450.5 317.5,445.9 318.3,445.0 319.1,436.7 320.0,426.7 320.8,431.9 321.7,434.6 322.5,438.3 323.3,432.4 324.2,429.3 325.0,423.3 325.8,425.5 326.6,425.6 327.5,425.9 328.3,426.7 329.1,421.4 330.0,416.7 330.8,413.8 331.6,410.9 332.5,409.7 333.3,406.7 334.1,410.4 335.0,413.6 335.8,418.3 336.6,414.9 337.5,414.1 338.3,410.8 339.2,409.0 340.0,406.7 340.8,406.5 341.7,408.4 342.5,408.8 343.4,406.6 344.2,408.3 345.0,409.7 345.9,412.3 346.7,415.0 347.5,418.7 348.4,420.4 349.2,421.4 350.0,424.2 350.8,422.8 351.6,423.4 352.5,423.3 353.3,421.7 354.1,423.5 355.0,422.8 355.8,420.4 356.6,420.0 357.5,417.5 358.3,415.0 359.1,416.9 360.0,420.3 360.9,420.1 361.7,422.8 362.7,420.4 363.6,415.5 364.6,412.7 365.6,410.6 366.4,415.1 367.2,417.2 368.3,413.6 369.4,411.7 370.4,415.5 371.4,418.1 372.3,421.8 373.3,423.9 374.1,422.3 375.0,421.1 375.8,419.7 376.6,420.1 377.5,418.2 378.3,416.7 379.3,422.7 380.2,427.2 381.2,429.9 382.2,435.6 383.2,432.7 384.1,428.3 385.1,425.1 386.1,423.3 387.0,428.3 387.8,435.6 388.8,434.3 389.8,431.7 390.7,429.4 391.7,426.1 392.5,427.6 393.4,430.3 394.2,432.7 395.0,433.9 395.9,437.0 396.8,441.0 397.6,443.4 398.5,446.5 399.4,451.1 400.3,446.2 401.3,443.7 402.2,438.3 403.2,444.6 404.1,451.7 405.1,456.6 406.1,462.8 407.2,456.1 408.3,450.6 409.1,452.2 410.0,453.2 410.9,451.7 411.7,453.9 412.5,456.6 413.4,457.2 414.2,459.5 415.0,462.8 415.9,460.3 416.8,454.4 417.6,451.4 418.5,449.9 419.4,445.0 420.3,447.2 421.2,448.8 422.1,451.4 423.0,454.0 423.9,457.2 424.9,455.1 425.9,450.5 426.8,450.0 427.8,446.1 428.8,447.4 429.8,450.8 430.7,452.3 431.7,452.8 432.7,449.7 433.6,447.1 434.6,445.2 435.6,442.8 436.6,444.3 437.5,448.5 438.4,449.4 439.4,453.3 440.2,448.8 440.9,448.4 441.7,443.9 442.6,445.2 443.5,447.8 444.4,449.4 445.6,433.3 446.5,430.4 447.4,427.2 448.3,425.0 449.1,426.4 449.8,431.4 450.6,432.8 451.5,429.5 452.4,424.8 453.3,418.9 454.1,420.3 455.0,423.1 455.9,426.7 456.7,428.9 457.6,426.8 458.5,422.1 459.3,419.1 460.2,415.6 461.1,411.7 461.9,414.6 462.8,419.0 463.6,422.0 464.4,426.1 465.3,424.0 466.2,422.2 467.1,421.5 468.0,422.1 468.9,419.4 470.0,427.6 471.1,436.1 471.9,432.4 472.8,428.2 473.6,424.8 474.4,419.4 475.2,418.6 475.9,417.8 476.7,417.8 477.8,421.8 478.9,426.7 480.0,418.9 481.1,412.2 482.0,418.1 482.9,423.1 483.8,426.3 484.7,431.3 485.6,436.7 486.5,441.3 487.3,445.6 488.2,440.3 489.1,434.7 490.0,428.9 490.8,430.7 491.6,432.6 492.5,435.7 493.3,438.9 494.2,436.1 495.1,435.9 496.0,433.0 496.9,431.5 497.8,431.1 498.6,431.5 499.5,430.5 500.3,431.9 501.1,431.1 502.2,427.2 503.3,423.3 504.1,419.9 505.0,413.5 505.9,410.0 506.7,405.6 507.5,405.9 508.4,403.3 509.2,405.1 510.0,403.3 511.1,410.0 511.9,404.6 512.8,401.9 513.6,398.0 514.4,392.2 515.2,397.2 515.9,399.8 516.7,404.4 517.5,402.2 518.4,402.2 519.2,402.3 520.0,400.0 520.8,395.8 521.6,393.9 522.5,388.2 523.3,385.6 524.1,386.7 525.0,384.3 525.9,385.1 526.7,385.6 527.8,381.1 528.9,374.4 530.0,382.0 531.1,387.8 531.9,387.3 532.8,385.4 533.6,383.5 534.4,381.1 535.2,385.0 536.1,386.8 536.9,390.9 537.8,394.4 538.9,407.8 539.7,405.2 540.5,405.1 541.4,403.2 542.2,401.1 543.3,390.4 544.4,381.1 545.2,374.3 546.1,371.3 546.9,365.3 547.8,358.9 548.6,354.6 549.5,350.1 550.3,346.5 551.1,341.1 552.2,335.4 553.3,330.0 554.1,333.9 555.0,337.9 555.9,341.8 556.7,346.7 557.5,337.3 558.4,331.0 559.2,322.2 560.0,314.4 560.9,307.3 561.8,303.1 562.7,297.3 563.6,294.1 564.9,306.0 565.5,292.8 566.5,287.7 567.5,283.5 568.5,286.5 569.5,291.5 570.5,294.4 571.5,299.4 572.4,295.0 573.3,292.9 574.3,288.0 575.2,284.3 576.1,280.9 577.1,272.7 578.1,263.8 579.0,267.0 580.0,271.7 581.0,280.9 582.0,292.8 583.0,285.6 584.0,278.3 585.0,288.2 586.0,298.0 587.0,294.5 588.0,290.1 589.0,295.9 589.9,302.0 590.7,297.9 591.5,293.4 592.4,287.4 593.2,283.5 594.1,280.0 595.0,276.4 595.9,273.0 596.8,266.3 597.8,261.1 598.7,249.0 599.6,237.5 600.5,225.5 601.8,248.0 602.7,247.8 603.5,246.5 604.4,244.0 605.1,254.6 605.8,266.4 606.7,262.8 607.5,257.2 608.4,254.5 609.4,269.2 610.4,286.2 611.3,288.9 612.1,292.5 613.0,294.1 614.0,279.3 615.0,266.4 615.9,273.3 616.7,279.8 617.6,284.9 618.6,281.7 619.6,279.6 620.9,286.2 622.2,271.7 622.9,284.9" fill="none" stroke="#b80008" stroke-width="3.1" stroke-linejoin="round"/>
<line x1="887" y1="168.3" x2="914" y2="168.3" stroke="#a81a1e" stroke-width="3" stroke-linecap="round"/>
<line x1="887" y1="184" x2="914" y2="184" stroke="#ecc23a" stroke-width="3" stroke-linecap="round"/>
</svg>
</body>
</html>
